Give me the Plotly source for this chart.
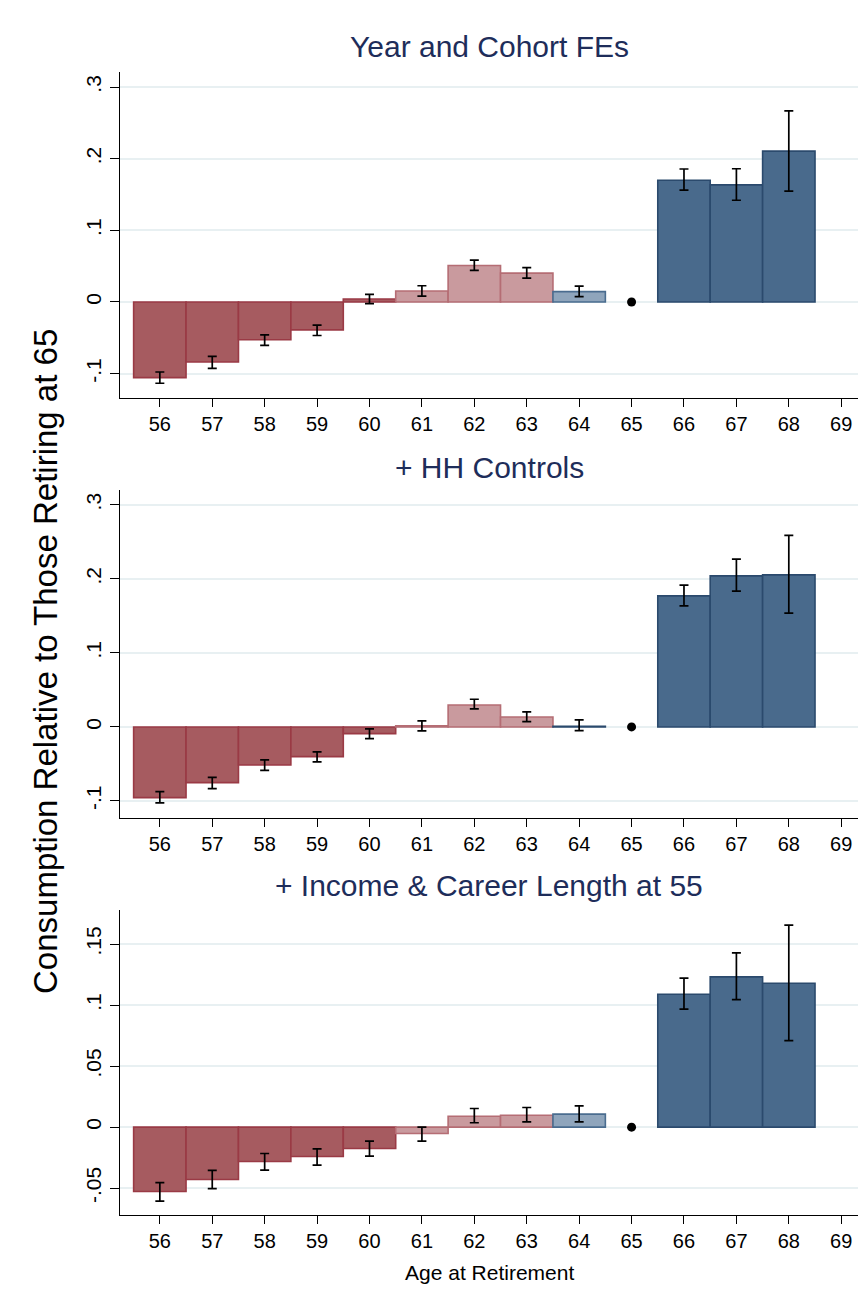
import plotly.graph_objects as go

ages = [56, 57, 58, 59, 60, 61, 62, 63, 64, 66, 67, 68]
ref_age = 65
xticks = list(range(56, 70))

titles = ["Year and Cohort FEs", "+ HH Controls", "+ Income & Career Length at 55"]

# Panel 1: Year and Cohort FEs
coef1 = [-0.1056, -0.0838, -0.0528, -0.0389, 0.0042, 0.0153, 0.0509, 0.0403, 0.0144, 0.1699, 0.1634, 0.2106]
lo1 = [-0.1134, -0.0926, -0.0606, -0.0468, -0.0023, 0.0083, 0.0440, 0.0333, 0.0074, 0.1560, 0.1420, 0.1546]
hi1 = [-0.0977, -0.0760, -0.0458, -0.0324, 0.0106, 0.0227, 0.0583, 0.0481, 0.0222, 0.1856, 0.1860, 0.2667]
grp1 = ["dr", "dr", "dr", "dr", "dr", "lr", "lr", "lr", "lb", "db", "db", "db"]

# Panel 2: + HH Controls
coef2 = [-0.0955, -0.0752, -0.0514, -0.0401, -0.0090, 0.0014, 0.0297, 0.0135, 0.0010, 0.1770, 0.2040, 0.2054]
lo2 = [-0.1027, -0.0833, -0.0586, -0.0473, -0.0158, -0.0054, 0.0243, 0.0072, -0.0050, 0.1635, 0.1833, 0.1536]
hi2 = [-0.0874, -0.0680, -0.0446, -0.0338, -0.0027, 0.0081, 0.0374, 0.0203, 0.0095, 0.1914, 0.2266, 0.2586]
grp2 = ["dr", "dr", "dr", "dr", "dr", "lr", "lr", "lr", "db", "db", "db", "db"]

# Panel 3: + Income & Career Length at 55
coef3 = [-0.0527, -0.0429, -0.0281, -0.0240, -0.0175, -0.0052, 0.0090, 0.0098, 0.0107, 0.1090, 0.1232, 0.1180]
lo3 = [-0.0607, -0.0503, -0.0352, -0.0311, -0.0238, -0.0115, 0.0036, 0.0044, 0.0044, 0.0967, 0.1046, 0.0710]
hi3 = [-0.0454, -0.0355, -0.0216, -0.0178, -0.0115, 0.0000, 0.0153, 0.0161, 0.0175, 0.1221, 0.1429, 0.1656]
grp3 = ["dr", "dr", "dr", "dr", "dr", "lr", "lr", "lr", "lb", "db", "db", "db"]

ytick_vals = [[-0.1, 0, 0.1, 0.2, 0.3], [-0.1, 0, 0.1, 0.2, 0.3], [-0.05, 0, 0.05, 0.1, 0.15]]
ytick_text = [["-.1", "0", ".1", ".2", ".3"], ["-.1", "0", ".1", ".2", ".3"], ["-.05", "0", ".05", ".1", ".15"]]
yranges = [[-0.134, 0.321], [-0.123, 0.320], [-0.072, 0.178]]

fills = {"dr": "#a65b60", "lr": "#c99a9e", "lb": "#8fa5bc", "db": "#496a8c"}
edges = {"dr": "#9a3a45", "lr": "#b56d74", "lb": "#4a6c8f", "db": "#2b4a6d"}

W, H = 861, 1301
px_left, px_right = 120, 858
panels_px = [(72, 398), (490, 818), (910, 1215)]
title_px = [47, 467, 886]

FONT = "Liberation Sans, Arial, sans-serif"

fig = go.Figure()
data = [(coef1, lo1, hi1, grp1), (coef2, lo2, hi2, grp2), (coef3, lo3, hi3, grp3)]

layout = dict(
    width=W, height=H, margin=dict(l=0, r=0, t=0, b=0),
    paper_bgcolor="white", plot_bgcolor="white", showlegend=False,
    font=dict(family=FONT, color="black"),
    annotations=[],
)

xdom = [px_left / W, px_right / W]
for i, (c, lo, hi, g) in enumerate(data):
    k = "" if i == 0 else str(i + 1)
    xa, ya = "x" + k, "y" + k
    fig.add_trace(go.Bar(
        x=ages, y=c, width=1.0, xaxis=xa, yaxis=ya,
        marker=dict(color=[fills[v] for v in g],
                    line=dict(color=[edges[v] for v in g], width=1.6)),
        error_y=dict(type="data", symmetric=False,
                     array=[h - v for h, v in zip(hi, c)],
                     arrayminus=[v - l for v, l in zip(c, lo)],
                     color="black", thickness=1.7, width=4.5),
        hoverinfo="skip",
    ))
    fig.add_trace(go.Scatter(
        x=[ref_age], y=[0], mode="markers", xaxis=xa, yaxis=ya,
        marker=dict(color="black", size=9), hoverinfo="skip",
    ))
    top, bot = panels_px[i]
    layout["xaxis" + k] = dict(
        domain=xdom, anchor=ya, range=[55.24, 69.32],
        tickmode="array", tickvals=xticks, ticktext=[str(t) for t in xticks],
        showline=True, linecolor="black", linewidth=1.3,
        ticks="outside", ticklen=8, tickcolor="black", tickwidth=1.2,
        showgrid=False, zeroline=False,
        tickfont=dict(size=20, family=FONT, color="black"),
    )
    layout["yaxis" + k] = dict(
        domain=[1 - bot / H, 1 - top / H], anchor=xa, range=yranges[i],
        tickmode="array", tickvals=ytick_vals[i], ticktext=ytick_text[i],
        tickangle=-90,
        showline=True, linecolor="black", linewidth=1.3,
        ticks="outside", ticklen=9, tickcolor="black", tickwidth=1.2,
        showgrid=True, gridcolor="#e8f0f2", gridwidth=1.5, zeroline=False,
        tickfont=dict(size=21, family=FONT, color="black"),
    )
    layout["annotations"].append(dict(
        text=titles[i], x=(px_left + px_right) / 2 / W, y=1 - title_px[i] / H,
        xref="paper", yref="paper", xanchor="center", yanchor="middle",
        showarrow=False, font=dict(size=30, family=FONT, color="#1e2d5a"),
    ))

layout["annotations"].append(dict(
    text="Consumption Relative to Those Retiring at 65",
    x=45 / W, y=1 - 662 / H, xref="paper", yref="paper",
    xanchor="center", yanchor="middle", textangle=-90, showarrow=False,
    font=dict(size=33, family=FONT, color="black"),
))
layout["annotations"].append(dict(
    text="Age at Retirement",
    x=(px_left + px_right) / 2 / W, y=1 - 1272 / H, xref="paper", yref="paper",
    xanchor="center", yanchor="middle", showarrow=False,
    font=dict(size=21, family=FONT, color="black"),
))

fig.update_layout(**layout)
fig.write_html("out.html", config={"displayModeBar": False},
               post_script="document.body.style.margin='0';")
